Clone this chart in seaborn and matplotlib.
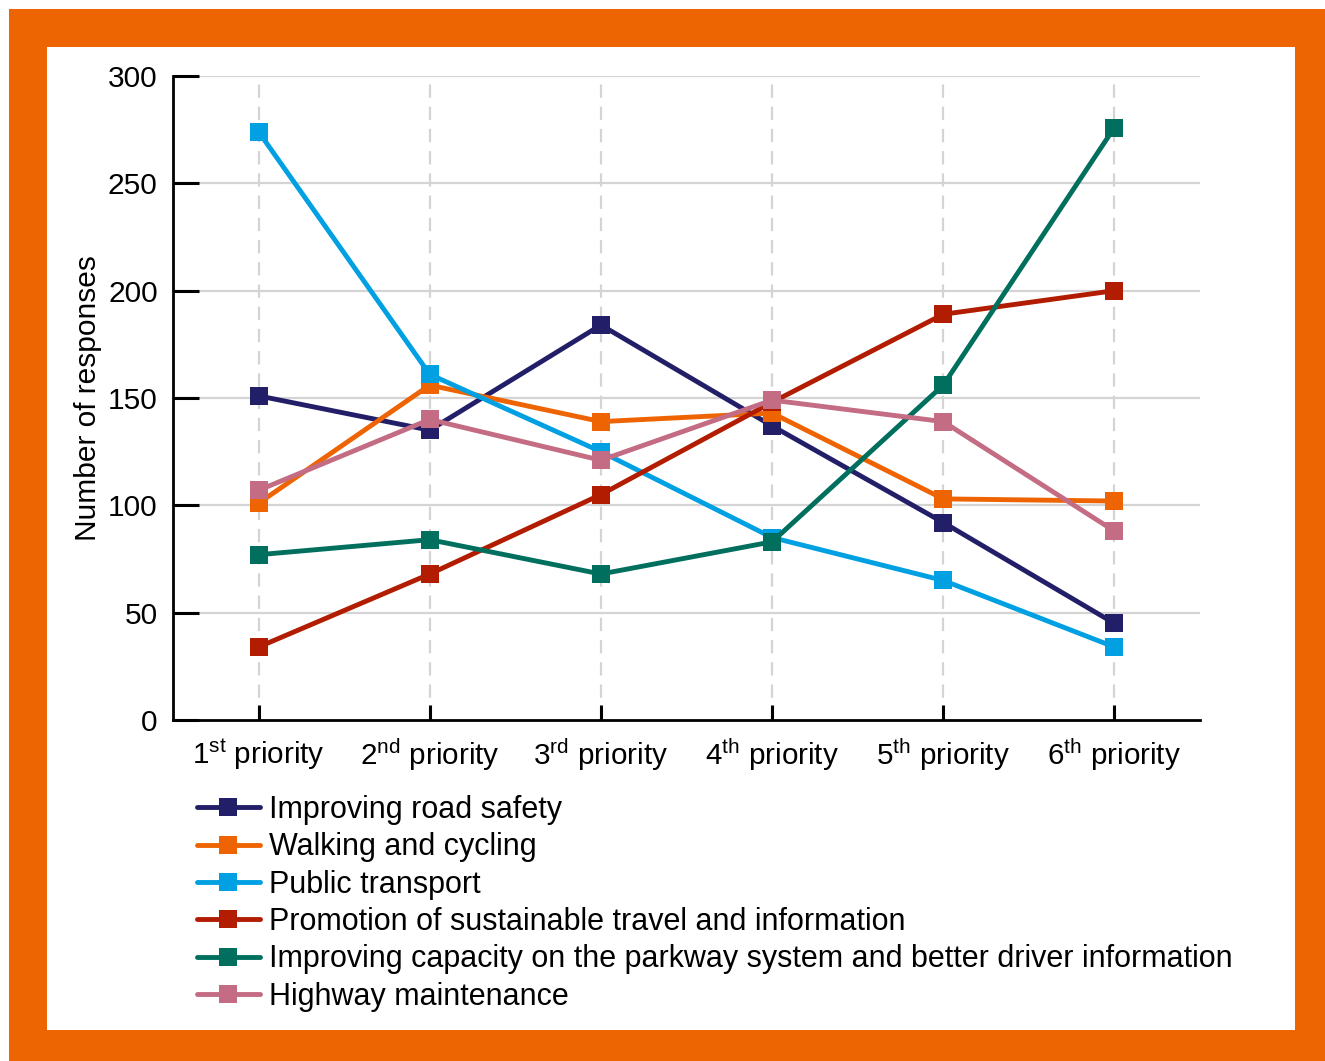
import matplotlib
matplotlib.use("Agg")
import matplotlib.pyplot as plt
from matplotlib.patches import Rectangle
import seaborn as sns
import pandas as pd

# Ranking positions shown along the x axis
priorities = ["1st", "2nd", "3rd", "4th", "5th", "6th"]
priority_labels = [
    r"1$^{st}$ priority",
    r"2$^{nd}$ priority",
    r"3$^{rd}$ priority",
    r"4$^{th}$ priority",
    r"5$^{th}$ priority",
    r"6$^{th}$ priority",
]

# Number of responses giving each theme each ranking
road_safety = [151, 135, 184, 137, 92, 45]
walking_cycling = [101, 156, 139, 143, 103, 102]
public_transport = [274, 161, 125, 85, 65, 34]
sustainable_travel = [34, 68, 105, 148, 189, 200]
parkway_capacity = [77, 84, 68, 83, 156, 276]
highway_maintenance = [107, 140, 121, 149, 139, 88]

series_names = [
    "Improving road safety",
    "Walking and cycling",
    "Public transport",
    "Promotion of sustainable travel and information",
    "Improving capacity on the parkway system and better driver information",
    "Highway maintenance",
]
series_values = [road_safety, walking_cycling, public_transport,
                 sustainable_travel, parkway_capacity, highway_maintenance]
series_colors = ["#221E68", "#EE6402", "#00A0E2", "#B21C01", "#006F5D", "#C36C83"]

rows = []
for name, vals in zip(series_names, series_values):
    for i, v in enumerate(vals):
        rows.append({"pos": i, "priority": priorities[i], "theme": name, "responses": v})
df = pd.DataFrame(rows)

sns.set_theme(style="white")
plt.rcParams["font.family"] = ["Liberation Sans", "DejaVu Sans"]
plt.rcParams["mathtext.default"] = "regular"

W, H = 1325, 1061
fig = plt.figure(figsize=(W / 100, H / 100), dpi=100)
fig.patch.set_facecolor("white")

# Orange frame around a white panel
fig.patches.append(Rectangle((9 / W, 0), 1 - 9 / W, 1 - 9 / H,
                             transform=fig.transFigure, facecolor="#EC6502",
                             edgecolor="none", zorder=-10))
fig.patches.append(Rectangle((47 / W, 31 / H), (1295 - 47) / W, (1014 - 31) / H,
                             transform=fig.transFigure, facecolor="white",
                             edgecolor="none", zorder=-9))

ax = fig.add_axes([173 / W, 1 - 720 / H, (1200 - 173) / W, (720 - 76) / H])
ax.set_facecolor("none")

sns.lineplot(data=df, x="pos", y="responses", hue="theme", hue_order=series_names,
             palette=series_colors, marker="s", markersize=12.5, markeredgewidth=0,
             linewidth=3.5, sort=False, ax=ax, legend=False, zorder=3)

ax.set_xlim(-0.5, 5.5)
ax.set_ylim(0, 300)
ax.set_yticks([0, 50, 100, 150, 200, 250, 300])
ax.set_xticks(range(len(priorities)))
ax.set_xticklabels(priority_labels)

# Grid: solid horizontal, dashed vertical
ax.grid(False)
for yv in [50, 100, 150, 200, 250, 300]:
    ax.axhline(yv, color="#D4D4D4", linewidth=1.6, zorder=1)
for xv in range(len(priorities)):
    ax.axvline(xv, color="#D4D4D4", linewidth=1.6, dashes=(6, 4), zorder=1)

for side in ["top", "right"]:
    ax.spines[side].set_visible(False)
for side in ["left", "bottom"]:
    ax.spines[side].set_color("black")
    ax.spines[side].set_linewidth(2)
    ax.spines[side].set_zorder(4)

ax.tick_params(axis="y", direction="in", length=19, width=2, color="black",
               labelsize=21.5, pad=11, left=True)
ax.tick_params(axis="x", direction="in", length=11, width=2, color="black",
               labelsize=21.3, pad=12, bottom=True)
ax.xaxis.set_zorder(5)
ax.yaxis.set_zorder(5)
for t in ax.xaxis.get_major_ticks() + ax.yaxis.get_major_ticks():
    t.tick1line.set_color("black")
    t.tick1line.set_markeredgewidth(2.2)
    t.tick1line.set_zorder(5)
for lab in ax.get_xticklabels() + ax.get_yticklabels():
    lab.set_color("black")

ax.set_xlabel("")
ax.set_ylabel("Number of responses", fontsize=21.5, color="black", labelpad=4)

handles = [plt.Line2D([], [], color=c, linewidth=3.5, marker="s", markersize=12.5,
                      markeredgewidth=0) for c in series_colors]
fig.legend(handles, series_names, loc="upper left",
           bbox_to_anchor=(197 / W, 1 - 795 / H), frameon=False, fontsize=22,
           handlelength=2.05, handletextpad=0.3, labelspacing=0.24,
           borderpad=0, borderaxespad=0, labelcolor="black")

fig.savefig("out.png", dpi=100, facecolor="white")
